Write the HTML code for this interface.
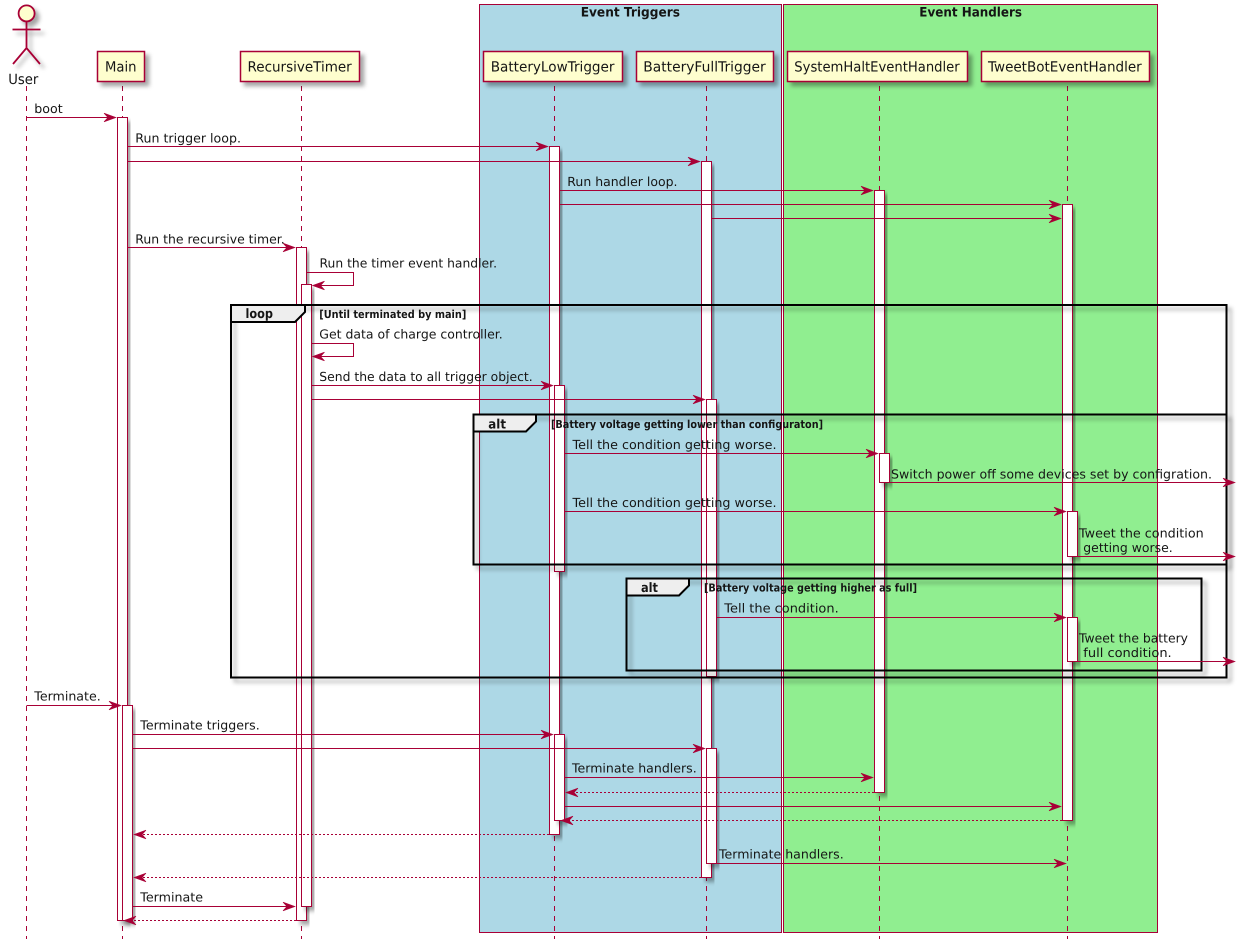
<!DOCTYPE html>
<html>
<head>
<meta charset="utf-8">
<title>Sequence diagram</title>
<style>
html,body{margin:0;padding:0;background:#fff;width:1245px;height:949px;overflow:hidden}
svg{display:block}
text{font-family:"DejaVu Sans","Liberation Sans",sans-serif;fill:#151515;text-rendering:geometricPrecision}
.m{font-size:12.5px}
.p{font-size:14px}
.b{font-weight:bold;font-size:11px}
.t{font-weight:bold;font-size:13px}
.ll{stroke:#A80036;stroke-width:1;stroke-dasharray:5,5;fill:none}
.box{fill:#FEFECE;stroke:#A80036;stroke-width:1.5;filter:url(#s)}
.bar{fill:#fff;stroke:#A80036;stroke-width:1;filter:url(#s)}
.fr{fill:none;stroke:#000;stroke-width:2;filter:url(#s)}
.tab{fill:#EEEEEE;stroke:#000;stroke-width:2}
.g{stroke:#A80036;stroke-width:1}
.l{stroke:#A80036;stroke-width:1;fill:none}
.d{stroke:#A80036;stroke-width:1;fill:none;stroke-dasharray:2,2}
.h{fill:#A80036;stroke:#A80036;stroke-width:.6}
</style>
</head>
<body>
<svg xmlns="http://www.w3.org/2000/svg" width="1245" height="949" viewBox="0 0 1245 949">
<defs>
<filter id="s" x="-30%" y="-30%" width="160%" height="160%" filterUnits="objectBoundingBox" primitiveUnits="userSpaceOnUse">
<feGaussianBlur in="SourceAlpha" stdDeviation="2" result="b"/>
<feColorMatrix in="b" type="matrix" values="0 0 0 0 0 0 0 0 0 0 0 0 0 0 0 0 0 0 .35 0" result="c"/>
<feOffset in="c" dx="4" dy="4" result="o"/>
<feBlend in="SourceGraphic" in2="o" mode="normal"/>
</filter>
<filter id="sl" x="-50" y="-50" width="200" height="200" filterUnits="userSpaceOnUse">
<feGaussianBlur in="SourceAlpha" stdDeviation="2" result="b"/>
<feColorMatrix in="b" type="matrix" values="0 0 0 0 0 0 0 0 0 0 0 0 0 0 0 0 0 0 .35 0" result="c"/>
<feOffset in="c" dx="4" dy="4" result="o"/>
<feBlend in="SourceGraphic" in2="o" mode="normal"/>
</filter>
<path id="r" class="h" d="M0 0L-12 -4.3L-8 0L-12 4.3Z"/>
<path id="e" class="h" d="M0 0L12 -4.3L8 0L12 4.3Z"/>
</defs>

<!-- groups -->
<rect class="g" x="479.5" y="4.5" width="302" height="928" fill="#ADD8E6"/>
<rect class="g" x="783.5" y="4.5" width="374" height="928" fill="#90EE90"/>
<text class="t" x="580.7" y="16.7" textLength="99.3" lengthAdjust="spacingAndGlyphs">Event Triggers</text>
<text class="t" x="919.3" y="16.7" textLength="102.7" lengthAdjust="spacingAndGlyphs">Event Handlers</text>

<!-- lifelines -->
<line class="ll" x1="26.5" y1="86" x2="26.5" y2="939"/>
<line class="ll" x1="122.5" y1="86" x2="122.5" y2="939"/>
<line class="ll" x1="301.5" y1="86" x2="301.5" y2="939"/>
<line class="ll" x1="554.5" y1="86" x2="554.5" y2="939"/>
<line class="ll" x1="706.5" y1="86" x2="706.5" y2="939"/>
<line class="ll" x1="879.5" y1="86" x2="879.5" y2="939"/>
<line class="ll" x1="1067.5" y1="86" x2="1067.5" y2="939"/>

<!-- actor -->
<g filter="url(#sl)" fill="none" stroke="#A80036" stroke-width="1.8">
<circle cx="26.6" cy="13.4" r="8" fill="#FEFECE"/>
<path d="M26.5 21.5V48M12.5 29.5H40.5M26.5 48L13 64M26.5 48L40 64"/>
</g>
<text class="p" x="8.3" y="84" textLength="30" lengthAdjust="spacingAndGlyphs">User</text>

<!-- participants -->
<rect class="box" x="97.5" y="51.5" width="47" height="30"/>
<rect class="box" x="240.5" y="51.5" width="119" height="30"/>
<rect class="box" x="483.5" y="51.5" width="139" height="30"/>
<rect class="box" x="636.5" y="51.5" width="137" height="30"/>
<rect class="box" x="787.5" y="51.5" width="180" height="30"/>
<rect class="box" x="981.5" y="51.5" width="168" height="30"/>
<text class="p" x="105" y="71.7" textLength="31.5" lengthAdjust="spacingAndGlyphs">Main</text>
<text class="p" x="247.5" y="71.7" textLength="104.2" lengthAdjust="spacingAndGlyphs">RecursiveTimer</text>
<text class="p" x="490.7" y="71.7" textLength="123.8" lengthAdjust="spacingAndGlyphs">BatteryLowTrigger</text>
<text class="p" x="643.3" y="71.7" textLength="122.4" lengthAdjust="spacingAndGlyphs">BatteryFullTrigger</text>
<text class="p" x="794.3" y="71.7" textLength="165.4" lengthAdjust="spacingAndGlyphs">SystemHaltEventHandler</text>
<text class="p" x="988" y="71.7" textLength="153.7" lengthAdjust="spacingAndGlyphs">TweetBotEventHandler</text>

<!-- activation bars -->
<rect class="bar" x="117.5" y="117.5" width="10" height="803"/>
<rect class="bar" x="122.5" y="705.5" width="10" height="215"/>
<rect class="bar" x="296.5" y="247.5" width="10" height="673"/>
<rect class="bar" x="301.5" y="284.5" width="10" height="622"/>
<rect class="bar" x="549.5" y="146.5" width="10" height="688"/>
<rect class="bar" x="554.5" y="385.5" width="10" height="186"/>
<rect class="bar" x="554.5" y="734.5" width="10" height="86"/>
<rect class="bar" x="701.5" y="161.5" width="10" height="716"/>
<rect class="bar" x="706.5" y="399.5" width="10" height="277"/>
<rect class="bar" x="706.5" y="748.5" width="10" height="115"/>
<rect class="bar" x="874.5" y="190.5" width="10" height="602"/>
<rect class="bar" x="879.5" y="453.5" width="10" height="29"/>
<rect class="bar" x="1062.5" y="204.5" width="10" height="616"/>
<rect class="bar" x="1067.5" y="511.5" width="10" height="45"/>
<rect class="bar" x="1067.5" y="617.5" width="10" height="44"/>

<!-- frames -->
<rect class="fr" x="231" y="305" width="995.5" height="372.5"/>
<path class="tab" d="M231 305H305V312L295 322H231Z"/>
<text class="t" x="245.5" y="318" textLength="27.5" lengthAdjust="spacingAndGlyphs">loop</text>
<text class="b" x="319.3" y="318" textLength="147" lengthAdjust="spacingAndGlyphs">[Until terminated by main]</text>

<rect class="fr" x="473.5" y="414.5" width="753" height="150"/>
<path class="tab" d="M473.5 414.5H536V421.5L526 431.5H473.5Z"/>
<text class="t" x="488.3" y="428.3" textLength="17.7" lengthAdjust="spacingAndGlyphs">alt</text>
<text class="b" x="551" y="428" textLength="272" lengthAdjust="spacingAndGlyphs">[Battery voltage getting lower than configuraton]</text>

<rect class="fr" x="626.5" y="578.5" width="575" height="92"/>
<path class="tab" d="M626.5 578.5H689V585.5L679 595.5H626.5Z"/>
<text class="t" x="641" y="592" textLength="17" lengthAdjust="spacingAndGlyphs">alt</text>
<text class="b" x="704" y="591.5" textLength="213" lengthAdjust="spacingAndGlyphs">[Battery voltage getting higher as full]</text>

<!-- messages -->
<line class="l" x1="26.5" y1="117.5" x2="114" y2="117.5"/><use href="#r" x="116" y="117.5"/>
<line class="l" x1="127.5" y1="146.5" x2="546" y2="146.5"/><use href="#r" x="548" y="146.5"/>
<line class="l" x1="127.5" y1="161.5" x2="698" y2="161.5"/><use href="#r" x="700" y="161.5"/>
<line class="l" x1="559.5" y1="190.5" x2="871" y2="190.5"/><use href="#r" x="873" y="190.5"/>
<line class="l" x1="559.5" y1="204.5" x2="1059" y2="204.5"/><use href="#r" x="1061" y="204.5"/>
<line class="l" x1="711.5" y1="218.5" x2="1059" y2="218.5"/><use href="#r" x="1061" y="218.5"/>
<line class="l" x1="127.5" y1="247.5" x2="293" y2="247.5"/><use href="#r" x="295" y="247.5"/>
<path class="l" d="M306.5 272.5H353.5V285.5H314.5"/><use href="#e" x="312.5" y="285.5"/>
<path class="l" d="M311.5 343.5H353.5V356.5H314.5"/><use href="#e" x="312.5" y="356.5"/>
<line class="l" x1="311.5" y1="385.5" x2="551" y2="385.5"/><use href="#r" x="553" y="385.5"/>
<line class="l" x1="311.5" y1="399.5" x2="703" y2="399.5"/><use href="#r" x="705" y="399.5"/>
<line class="l" x1="564.5" y1="453.5" x2="876" y2="453.5"/><use href="#r" x="878" y="453.5"/>
<line class="l" x1="889.5" y1="482.5" x2="1233" y2="482.5"/><use href="#r" x="1235" y="482.5"/>
<line class="l" x1="564.5" y1="511.5" x2="1064" y2="511.5"/><use href="#r" x="1066" y="511.5"/>
<line class="l" x1="1077.5" y1="556.5" x2="1233" y2="556.5"/><use href="#r" x="1235" y="556.5"/>
<line class="l" x1="716.5" y1="617.5" x2="1064" y2="617.5"/><use href="#r" x="1066" y="617.5"/>
<line class="l" x1="1077.5" y1="661.5" x2="1233" y2="661.5"/><use href="#r" x="1235" y="661.5"/>
<line class="l" x1="26.5" y1="705.5" x2="119" y2="705.5"/><use href="#r" x="121" y="705.5"/>
<line class="l" x1="132.5" y1="734.5" x2="551" y2="734.5"/><use href="#r" x="553" y="734.5"/>
<line class="l" x1="132.5" y1="748.5" x2="703" y2="748.5"/><use href="#r" x="705" y="748.5"/>
<line class="l" x1="564.5" y1="777.5" x2="871" y2="777.5"/><use href="#r" x="873" y="777.5"/>
<line class="d" x1="874" y1="792.5" x2="568" y2="792.5"/><use href="#e" x="566" y="792.5"/>
<line class="l" x1="564.5" y1="806.5" x2="1059" y2="806.5"/><use href="#r" x="1061" y="806.5"/>
<line class="d" x1="1062" y1="820.5" x2="563" y2="820.5"/><use href="#e" x="561" y="820.5"/>
<line class="d" x1="549" y1="834.5" x2="136" y2="834.5"/><use href="#e" x="134" y="834.5"/>
<line class="l" x1="716.5" y1="863.5" x2="1064" y2="863.5"/><use href="#r" x="1066" y="863.5"/>
<line class="d" x1="701" y1="877.5" x2="136" y2="877.5"/><use href="#e" x="134" y="877.5"/>
<line class="l" x1="132.5" y1="906.5" x2="293" y2="906.5"/><use href="#r" x="295" y="906.5"/>
<line class="d" x1="296" y1="920.5" x2="126" y2="920.5"/><use href="#e" x="124" y="920.5"/>

<!-- message labels -->
<text class="m" x="34.3" y="113" textLength="28.4" lengthAdjust="spacingAndGlyphs">boot</text>
<text class="m" x="135.3" y="142.3" textLength="105.7" lengthAdjust="spacingAndGlyphs">Run trigger loop.</text>
<text class="m" x="567.3" y="186" textLength="110.2" lengthAdjust="spacingAndGlyphs">Run handler loop.</text>
<text class="m" x="135.3" y="243.3" textLength="149.4" lengthAdjust="spacingAndGlyphs">Run the recursive timer.</text>
<text class="m" x="319.5" y="267.3" textLength="177.5" lengthAdjust="spacingAndGlyphs">Run the timer event handler.</text>
<text class="m" x="319.3" y="338.7" textLength="183.4" lengthAdjust="spacingAndGlyphs">Get data of charge controller.</text>
<text class="m" x="319.3" y="381" textLength="213.4" lengthAdjust="spacingAndGlyphs">Send the data to all trigger object.</text>
<text class="m" x="572.5" y="449" textLength="204" lengthAdjust="spacingAndGlyphs">Tell the condition getting worse.</text>
<text class="m" x="891" y="478.3" textLength="321" lengthAdjust="spacingAndGlyphs">Switch power off some devices set by configration.</text>
<text class="m" x="572.5" y="507" textLength="204" lengthAdjust="spacingAndGlyphs">Tell the condition getting worse.</text>
<text class="m" x="1079" y="537.3" textLength="124.7" lengthAdjust="spacingAndGlyphs">Tweet the condition</text>
<text class="m" x="1083.3" y="552" textLength="89.4" lengthAdjust="spacingAndGlyphs">getting worse.</text>
<text class="m" x="724.3" y="612.7" textLength="114.4" lengthAdjust="spacingAndGlyphs">Tell the condition.</text>
<text class="m" x="1079" y="642.3" textLength="109" lengthAdjust="spacingAndGlyphs">Tweet the battery</text>
<text class="m" x="1083.3" y="657" textLength="88.4" lengthAdjust="spacingAndGlyphs">full condition.</text>
<text class="m" x="34.3" y="700.7" textLength="66.4" lengthAdjust="spacingAndGlyphs">Terminate.</text>
<text class="m" x="140.3" y="729.7" textLength="119.4" lengthAdjust="spacingAndGlyphs">Terminate triggers.</text>
<text class="m" x="572" y="772.7" textLength="124.7" lengthAdjust="spacingAndGlyphs">Terminate handlers.</text>
<text class="m" x="719" y="858.7" textLength="124.7" lengthAdjust="spacingAndGlyphs">Terminate handlers.</text>
<text class="m" x="140.3" y="901.7" textLength="62.7" lengthAdjust="spacingAndGlyphs">Terminate</text>
</svg>
</body>
</html>
